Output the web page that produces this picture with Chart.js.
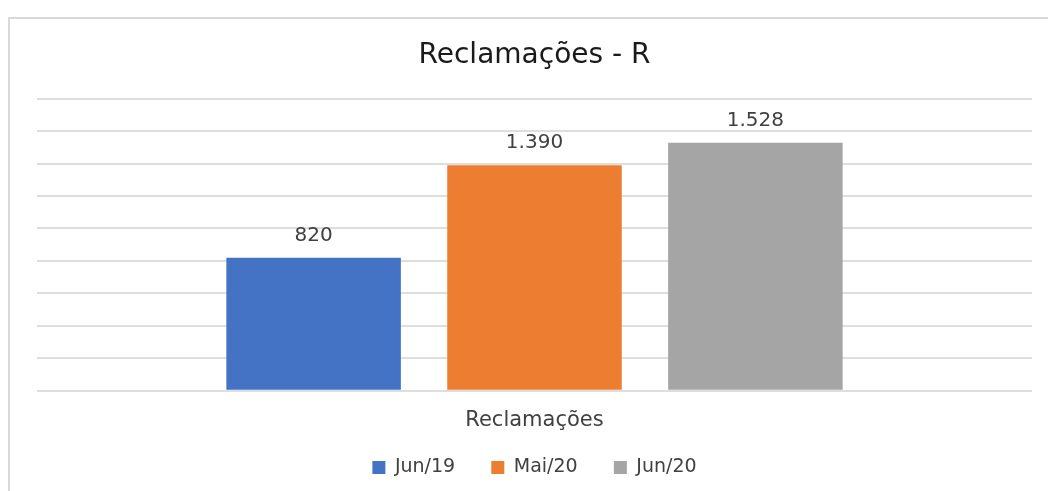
<!DOCTYPE html>
<html>
<head>
<meta charset="utf-8">
<script src="https://cdn.jsdelivr.net/npm/chart.js@4/dist/chart.umd.min.js"></script>
<style>
  body { margin: 0; background: #fff; }
  #moldura { position: absolute; left: 8px; top: 17px; width: 1100px; height: 500px;
             border-left: 2px solid #d9d9d9; border-top: 2px solid #d9d9d9; }
  #caixa { position: absolute; left: 0; top: 0; width: 1048px; height: 491px; }
</style>
</head>
<body>
<div id="moldura"></div>
<div id="caixa"><canvas id="grafica"></canvas></div>
<script>
const categorias = ['Reclamações'];
const series = ['Jun/19', 'Mai/20', 'Jun/20'];
const valores = [820, 1390, 1528];
const colores = ['#4472c4', '#ed7d31', '#a5a5a5'];
const fonte = "'DejaVu Sans', sans-serif";

// formato 1.390
function formatar(v) {
    return String(v).replace(/\B(?=(\d{3})+(?!\d))/g, '.');
}

// rotulos de valor acima das barras
const rotulos = {
    id: 'rotulos',
    afterDatasetsDraw(chart) {
        const c = chart.ctx;
        c.save();
        c.font = '20px ' + fonte;
        c.fillStyle = '#404040';
        c.textAlign = 'center';
        c.textBaseline = 'alphabetic';
        chart.data.datasets.forEach((ds, i) => {
            chart.getDatasetMeta(i).data.forEach((barra, j) => {
                c.fillText(formatar(ds.data[j]), barra.x, barra.y - 17);
            });
        });
        c.restore();
    }
};

const ctx = document.getElementById('grafica').getContext('2d');
new Chart(ctx, {
    type: 'bar',
    data: {
        labels: categorias,
        datasets: series.map((nome, i) => ({
            label: nome,
            data: [valores[i]],
            backgroundColor: colores[i],
            borderWidth: 0
        }))
    },
    options: {
        responsive: true,
        maintainAspectRatio: false,
        animation: false,
        layout: { padding: { left: 37, right: 16, top: 0, bottom: 4 } },
        datasets: { bar: { categoryPercentage: 0.666, barPercentage: 0.79 } },
        scales: {
            x: {
                grid: { display: false, tickLength: 0 },
                border: { display: false },
                ticks: { color: '#404040', font: { family: fonte, size: 21 }, padding: 17 },
                // eixo um pouco mais baixo, rotulo fica onde esta
                afterFit: (escala) => { escala.height -= 4; }
            },
            y: {
                min: 0, max: 1800,
                ticks: { display: false, stepSize: 200 },
                border: { display: false },
                grid: { color: '#dedede', lineWidth: 2, drawTicks: false }
            }
        },
        plugins: {
            title: {
                display: true,
                text: 'Reclamações - R',
                color: '#1a1a1a',
                font: { family: fonte, size: 28, weight: 'normal' },
                padding: { top: 39, bottom: 26 }
            },
            legend: {
                position: 'bottom',
                labels: {
                    color: '#404040',
                    font: { family: fonte, size: 19 },
                    boxWidth: 13, boxHeight: 13,
                    padding: 12,
                    // espaco extra entre os itens, menos no ultimo
                    generateLabels: (chart) => {
                        const itens = Chart.defaults.plugins.legend.labels.generateLabels(chart);
                        itens.forEach((it, i) => {
                            if (i < itens.length - 1) it.text = it.text + '    ';
                        });
                        return itens;
                    }
                }
            },
            tooltip: { enabled: false }
        }
    },
    plugins: [rotulos]
});
</script>
</body>
</html>
